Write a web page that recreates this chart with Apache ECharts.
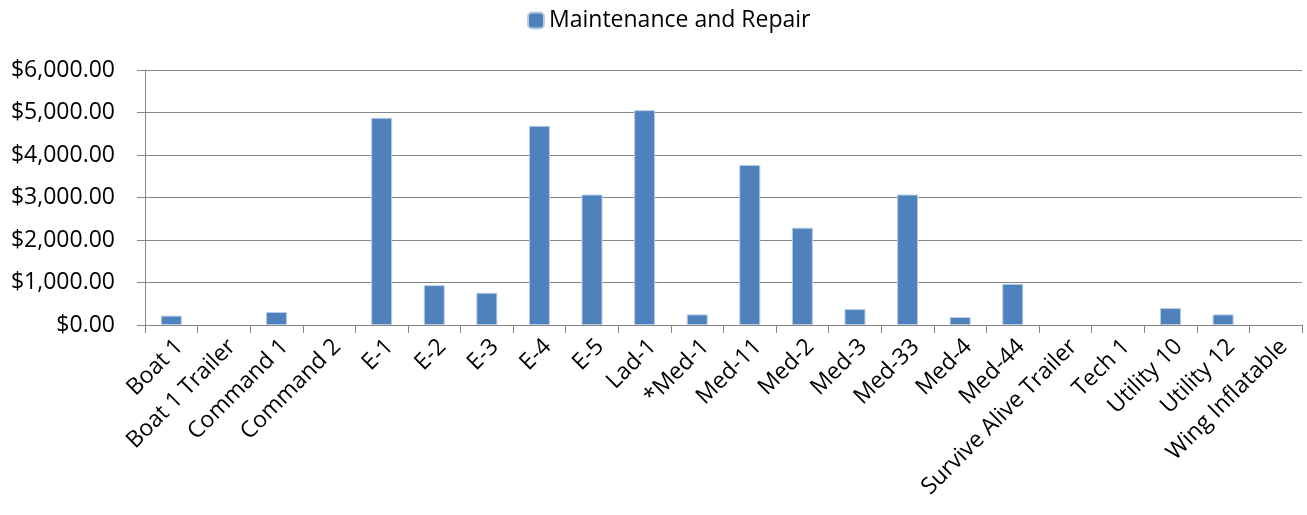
<!DOCTYPE html>
<html lang="en">
  <head>
    <meta charset="utf-8">
    <title>Maintenance and Repair</title>
    <style>
      html, body { margin: 0; padding: 0; background: #fff; }
      #chart { width: 1307px; height: 515px; }
    </style>
  </head>
  <body>
    <div id="chart"></div>
    <script src="https://cdn.jsdelivr.net/npm/echarts@6/dist/echarts.min.js"></script>
    <script>
      // categories (vehicles)
      var units = ['Boat 1', 'Boat 1 Trailer', 'Command 1', 'Command 2', 'E-1', 'E-2', 'E-3', 'E-4', 'E-5',
        'Lad-1', '*Med-1', 'Med-11', 'Med-2', 'Med-3', 'Med-33', 'Med-4', 'Med-44',
        'Survive Alive Trailer', 'Tech 1', 'Utility 10', 'Utility 12', 'Wing Inflatable'];
      // maintenance and repair cost per unit
      var repairCost = [220, 0, 305, 0, 4875, 937, 758, 4687, 3070,
        5055, 250, 3766, 2289, 375, 3070, 188, 969,
        0, 0, 398, 250, 0];
      // y axis ticks
      var yTicks = [0, 1000, 2000, 3000, 4000, 5000, 6000];

      var font = '"Open Sans", sans-serif';
      var myChart = echarts.init(document.getElementById('chart'));

      function money(v) {
        return '$' + v.toLocaleString('en-US', { minimumFractionDigits: 2, maximumFractionDigits: 2 });
      }

      // no outline on empty bars
      var barData = repairCost.map(function (v) {
        return v === 0 ? { value: v, itemStyle: { borderWidth: 0 } } : v;
      });

      myChart.setOption({
        animation: false,
        legend: {
          top: 4,
          left: 522,
          itemWidth: 16,
          itemHeight: 16,
          textStyle: { fontFamily: font, fontSize: 23, color: '#000' },
          data: ['Maintenance and Repair']
        },
        grid: { left: 145, right: 5, top: 70, bottom: 190 },
        xAxis: {
          type: 'category',
          data: units,
          axisLine: { lineStyle: { color: '#868686', width: 1 } },
          axisTick: { show: true, length: 8, lineStyle: { color: '#868686' } },
          axisLabel: {
            rotate: 45,
            interval: 0,
            margin: 10,
            verticalAlign: 'top',
            fontFamily: font,
            fontSize: 23,
            color: '#000'
          }
        },
        yAxis: {
          type: 'value',
          min: yTicks[0],
          max: yTicks[yTicks.length - 1],
          interval: 1000,
          axisLine: { show: true, lineStyle: { color: '#868686', width: 1 } },
          axisTick: { show: true, length: 8, lineStyle: { color: '#868686' } },
          splitLine: { lineStyle: { color: '#868686', width: 1 } },
          axisLabel: {
            margin: 30,
            fontFamily: font,
            fontSize: 23,
            color: '#000',
            formatter: money
          }
        },
        series: [{
          name: 'Maintenance and Repair',
          type: 'bar',
          barWidth: 21,
          data: barData,
          itemStyle: { color: '#4F81BD', borderColor: '#B9CDE5', borderWidth: 1 }
        }]
      });
    </script>
  </body>
</html>
